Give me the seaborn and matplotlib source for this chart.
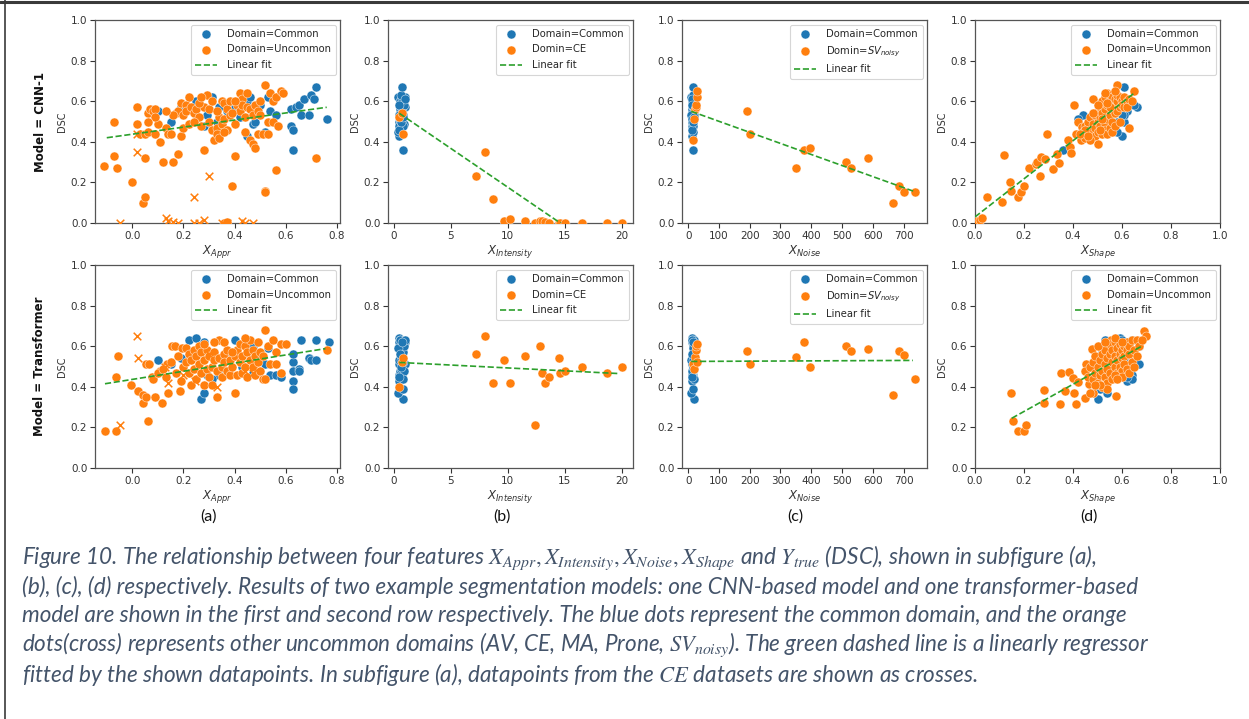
import numpy as np
import pandas as pd
import matplotlib
matplotlib.use("Agg")
import matplotlib.pyplot as plt
import seaborn as sns
from matplotlib.lines import Line2D

# ---------------- DATA ----------------
# CNN-1, common domain
cnn_common_dsc = [0.55,0.50,0.57,0.60,0.48,0.53,0.62,0.57,0.55,0.57,0.60,0.62,0.43,0.49,0.50,0.45,0.62,0.55,0.53,0.48,
                  0.56,0.46,0.36,0.57,0.58,0.53,0.61,0.53,0.63,0.61,0.67,0.51,0.50,0.52,0.58]
cnn_common_appr = [0.10,0.15,0.19,0.25,0.28,0.29,0.31,0.34,0.37,0.40,0.45,0.46,0.45,0.47,0.48,0.52,0.53,0.54,0.56,0.62,
                   0.62,0.63,0.63,0.64,0.65,0.66,0.67,0.69,0.70,0.71,0.72,0.76,0.33,0.42,0.50]
cnn_common_shape = [0.58,0.52,0.55,0.55,0.50,0.60,0.58,0.53,0.56,0.60,0.57,0.55,0.60,0.52,0.61,0.58,0.56,0.62,0.61,0.55,
                    0.60,0.49,0.36,0.66,0.65,0.60,0.61,0.44,0.56,0.59,0.61,0.42,0.58,0.55,0.54]
# Transformer, common domain
tr_common_dsc = [0.53,0.51,0.54,0.63,0.64,0.34,0.37,0.62,0.46,0.46,0.63,0.57,0.62,0.60,0.47,0.59,0.51,0.46,0.46,0.52,
                 0.48,0.43,0.39,0.49,0.48,0.63,0.54,0.53,0.53,0.63,0.62,0.56,0.50,0.44,0.45]
tr_common_appr = [0.10,0.15,0.19,0.22,0.25,0.27,0.28,0.28,0.29,0.34,0.40,0.38,0.46,0.47,0.47,0.53,0.52,0.54,0.56,0.63,
                  0.63,0.63,0.63,0.65,0.65,0.66,0.69,0.70,0.72,0.72,0.77,0.63,0.43,0.31,0.58]
tr_common_shape = [0.55,0.60,0.57,0.53,0.59,0.50,0.54,0.62,0.58,0.64,0.57,0.52,0.60,0.67,0.59,0.52,0.67,0.63,0.58,0.61,
                   0.56,0.62,0.51,0.60,0.55,0.64,0.61,0.53,0.57,0.60,0.58,0.52,0.55,0.64,0.62]
# shared common-domain features
common_intensity = [0.55,0.45,0.70,0.60,0.50,0.85,0.40,0.95,0.65,0.75,0.55,0.80,0.45,0.90,0.60,0.42,1.00,0.70,0.50,0.85,
                    0.58,0.48,0.82,0.62,0.90,0.52,0.75,0.44,0.68,0.95,0.72,0.56,0.64,0.80,0.47]
common_noise = [12,14,11,16,13,18,10,15,17,12,14,19,11,16,13,15,18,12,14,17,11,13,16,15,12,19,14,10,17,13,15,12,16,18,14]

# (a) CNN-1 uncommon (dots)
a_cnn_unc_x = [-0.11,-0.07,-0.07,-0.06,0.00,0.02,0.02,0.03,0.05,0.04,0.05,0.05,0.06,0.06,0.07,0.08,0.09,0.09,0.10,0.09,
               0.11,0.12,0.13,0.14,0.16,0.17,0.18,0.18,0.19,0.19,0.20,0.20,0.21,0.21,0.22,0.22,0.23,0.24,0.25,0.26,
               0.27,0.28,0.28,0.29,0.30,0.30,0.31,0.31,0.32,0.33,0.33,0.34,0.34,0.35,0.35,0.36,0.36,0.37,0.37,0.38,
               0.38,0.39,0.40,0.40,0.41,0.42,0.42,0.43,0.43,0.44,0.45,0.45,0.46,0.46,0.47,0.47,0.48,0.48,0.49,0.49,
               0.50,0.50,0.51,0.52,0.52,0.52,0.53,0.53,0.54,0.55,0.55,0.56,0.56,0.57,0.58,0.59,0.72,0.15,0.16,0.26,
               0.36,0.39,0.44,0.40,0.24,0.13,0.06,0.33,0.27,0.36,0.37]
a_cnn_unc_y = [0.28,0.50,0.33,0.27,0.20,0.57,0.49,0.44,0.44,0.10,0.13,0.32,0.45,0.54,0.56,0.55,0.56,0.44,0.49,0.52,
               0.40,0.30,0.47,0.44,0.30,0.54,0.55,0.34,0.43,0.59,0.47,0.53,0.58,0.55,0.62,0.49,0.57,0.54,0.56,0.52,
               0.48,0.36,0.57,0.63,0.50,0.56,0.60,0.46,0.41,0.47,0.44,0.42,0.52,0.60,0.49,0.59,0.51,0.56,0.46,0.60,
               0.53,0.18,0.33,0.49,0.58,0.64,0.55,0.61,0.58,0.52,0.64,0.57,0.56,0.41,0.39,0.53,0.37,0.58,0.55,0.44,
               0.60,0.53,0.44,0.68,0.16,0.155,0.44,0.50,0.64,0.50,0.60,0.62,0.26,0.48,0.65,0.64,0.32,0.44,0.53,0.59,
               0.45,0.54,0.45,0.60,0.50,0.55,0.50,0.55,0.62,0.00,0.005]
# (a) CNN-1 CE (crosses)
a_cnn_ce_x = [0.02,0.02,0.24,0.30,-0.05,0.13,0.14,0.16,0.18,0.24,0.26,0.28,0.35,0.37,0.43,0.44,0.47]
a_cnn_ce_y = [0.35,0.44,0.13,0.23,0.00,0.025,0.01,0.005,0.00,0.00,0.00,0.015,0.00,0.00,0.01,0.00,0.00]

# (a) Transformer uncommon (dots)
a_tr_unc_x = [-0.107,-0.065,-0.065,-0.055,-0.007,0.023,0.043,0.043,0.052,0.063,0.052,0.065,0.076,0.089,0.117,0.108,0.137,
              0.154,0.167,0.187,0.193,0.208,0.08,0.10,0.12,0.13,0.14,0.15,0.17,0.18,0.19,0.20,0.21,0.22,0.22,0.23,0.23,
              0.24,0.24,0.25,0.25,0.26,0.26,0.27,0.27,0.28,0.28,0.29,0.29,0.30,0.30,0.31,0.31,0.32,0.32,0.33,0.33,0.34,
              0.34,0.35,0.35,0.36,0.36,0.37,0.37,0.38,0.38,0.39,0.40,0.40,0.41,0.41,0.42,0.42,0.43,0.43,0.44,0.44,0.45,
              0.45,0.46,0.46,0.47,0.47,0.48,0.48,0.49,0.49,0.50,0.50,0.51,0.51,0.52,0.52,0.53,0.54,0.55,0.56,0.56,0.58,
              0.58,0.60,0.76,0.39,0.32,0.36,0.44,0.28]
a_tr_unc_y = [0.18,0.18,0.45,0.55,0.41,0.38,0.32,0.36,0.35,0.23,0.51,0.51,0.45,0.35,0.32,0.48,0.51,
              0.60,0.60,0.38,0.59,0.59,0.44,0.47,0.49,0.45,0.37,0.52,0.47,0.55,0.43,0.50,0.52,0.56,0.47,0.41,0.53,
              0.58,0.49,0.44,0.55,0.60,0.51,0.47,0.57,0.41,0.53,0.58,0.49,0.45,0.55,0.50,0.41,0.57,0.53,0.35,0.48,0.54,
              0.63,0.50,0.45,0.56,0.52,0.48,0.58,0.53,0.46,0.50,0.37,0.55,0.58,0.46,0.52,0.61,0.55,0.47,0.60,0.50,0.57,
              0.45,0.53,0.63,0.58,0.50,0.55,0.46,0.62,0.52,0.57,0.48,0.55,0.44,0.68,0.44,0.60,0.51,0.63,0.51,0.57,0.47,
              0.61,0.61,0.58,0.57,0.62,0.62,0.64,0.61]
a_tr_ce_x = [0.02,0.023,-0.048,0.138,0.33,0.128,0.30,0.245,0.47,0.44,0.20]
a_tr_ce_y = [0.65,0.54,0.21,0.42,0.40,0.50,0.56,0.43,0.47,0.48,0.46]

# (b) CE domain intensity
intensity_ce_x = [0.5,0.7,0.8,7.2,8.0,8.7,9.7,10.2,11.5,12.4,12.8,13.0,13.3,13.6,14.5,14.6,15.0,16.5,18.7,20.0]
intensity_ce_cnn_y = [0.52,0.54,0.44,0.23,0.35,0.12,0.01,0.02,0.01,0.0,0.01,0.01,0.005,0.0,0.0,0.0,0.0,0.0,0.0,0.0]
intensity_ce_tr_y = [0.40,0.52,0.54,0.56,0.65,0.42,0.53,0.42,0.55,0.21,0.60,0.47,0.42,0.45,0.54,0.47,0.48,0.50,0.47,0.50]

# (c) SV_noisy domain noise
noise_sv_x = [15,20,22,25,27,28,30,190,200,350,377,395,514,528,585,667,684,700,737]
noise_sv_cnn_y = [0.41,0.51,0.56,0.57,0.58,0.62,0.65,0.55,0.44,0.27,0.36,0.37,0.30,0.27,0.32,0.10,0.18,0.155,0.155]
noise_sv_tr_y = [0.51,0.49,0.545,0.58,0.60,0.61,0.52,0.575,0.51,0.545,0.62,0.50,0.60,0.575,0.585,0.36,0.575,0.555,0.44]

# (d) uncommon shape
d_cnn_unc_x = [0.01,0.02,0.027,0.05,0.109,0.118,0.142,0.145,0.176,0.187,0.20,0.22,0.248,0.254,0.265,0.27,0.284,0.292,
               0.319,0.334,0.343,0.38,0.387,0.392,0.403,0.414,0.42,0.434,0.438,
               0.44,0.45,0.45,0.46,0.46,0.47,0.47,0.48,0.48,0.48,0.49,0.49,0.49,0.50,0.50,0.50,0.50,0.51,0.51,0.51,
               0.52,0.52,0.52,0.53,0.53,0.53,0.53,0.54,0.54,0.54,0.54,0.55,0.55,0.55,0.55,0.56,0.56,0.56,0.56,0.57,
               0.57,0.57,0.57,0.58,0.58,0.58,0.58,0.59,0.59,0.59,0.60,0.60,0.61,0.61,0.62,0.62,0.63,0.63,0.65,0.64,
               0.47,0.51,0.45,0.43,0.46,0.52,0.50,0.48,0.55,0.53,0.57,0.54]
d_cnn_unc_y = [0.01,0.016,0.025,0.128,0.104,0.334,0.20,0.16,0.128,0.153,0.184,0.27,0.29,0.30,0.23,0.326,0.317,0.436,
               0.268,0.342,0.296,0.41,0.375,0.345,0.579,0.436,0.50,0.408,0.472,
               0.45,0.48,0.42,0.47,0.50,0.44,0.52,0.46,0.61,0.49,0.43,0.53,0.47,0.50,0.39,0.55,0.45,0.57,0.48,0.52,
               0.44,0.54,0.60,0.49,0.62,0.46,0.56,0.51,0.58,0.44,0.64,0.53,0.60,0.47,0.63,0.56,0.50,0.62,0.45,0.58,
               0.54,0.61,0.48,0.68,0.60,0.55,0.63,0.57,0.50,0.62,0.60,0.58,0.62,0.57,0.60,0.57,0.47,0.61,0.65,0.60,
               0.41,0.46,0.46,0.44,0.43,0.51,0.58,0.54,0.57,0.64,0.65,0.59]
d_tr_unc_x = [0.147,0.156,0.176,0.20,0.21,0.282,0.282,0.346,0.353,0.366,0.384,0.398,0.403,0.414,0.422,0.448,0.455,0.479,
              0.465,0.482,0.574,0.556,0.689,0.696,
              0.45,0.46,0.47,0.48,0.48,0.49,0.49,0.50,0.50,0.51,0.51,0.52,0.52,0.52,0.53,0.53,0.53,0.54,0.54,0.54,
              0.55,0.55,0.55,0.56,0.56,0.56,0.57,0.57,0.57,0.58,0.58,0.58,0.59,0.59,0.59,0.60,0.60,0.60,0.61,0.61,
              0.61,0.62,0.62,0.62,0.63,0.63,0.64,0.64,0.65,0.66,0.66,0.67,0.68,0.54,0.51,0.57,0.60,0.63,0.65,0.47,
              0.50,0.53,0.57,0.60,0.58,0.49]
d_tr_unc_y = [0.37,0.23,0.18,0.18,0.21,0.386,0.32,0.313,0.468,0.379,0.473,0.445,0.369,0.316,0.423,0.344,0.514,0.588,
              0.412,0.369,0.353,0.633,0.674,0.649,
              0.48,0.45,0.50,0.44,0.52,0.47,0.55,0.42,0.50,0.53,0.46,0.56,0.48,0.40,0.51,0.45,0.58,0.49,0.54,0.42,
              0.56,0.47,0.61,0.52,0.44,0.58,0.50,0.55,0.62,0.47,0.53,0.59,0.56,0.50,0.61,0.54,0.58,0.48,0.60,0.55,
              0.51,0.58,0.62,0.49,0.56,0.60,0.63,0.52,0.58,0.55,0.63,0.60,0.63,0.39,0.41,0.46,0.45,0.47,0.50,0.37,
              0.60,0.62,0.64,0.62,0.44,0.41]

# Linear fit endpoints: ([x0, x1], [y0, y1])
fit_lines = {
    ("cnn", "a"): ([-0.10, 0.76], [0.42, 0.57]),
    ("cnn", "b"): ([0.5, 20.0], [0.54, -0.207]),
    ("cnn", "c"): ([10, 735], [0.55, 0.155]),
    ("cnn", "d"): ([0.0, 0.65], [0.03, 0.64]),
    ("tr", "a"): ([-0.107, 0.755], [0.415, 0.588]),
    ("tr", "b"): ([0.5, 19.8], [0.52, 0.465]),
    ("tr", "c"): ([10, 730], [0.525, 0.53]),
    ("tr", "d"): ([0.15, 0.68], [0.245, 0.60]),
}

row_labels = ["Model = CNN-1", "Model = Transformer"]
x_labels = ["$X_{Appr}$", "$X_{Intensity}$", "$X_{Noise}$", "$X_{Shape}$"]
unc_labels = ["Domain=Uncommon", "Domin=CE", "Domin=$SV_{noisy}$", "Domain=Uncommon"]
sub_labels = ["(a)", "(b)", "(c)", "(d)"]
x_limits = [(-0.146, 0.812), (-0.5, 20.97), (-20, 776), (0.0, 1.0)]
x_ticks = [[0.0, 0.2, 0.4, 0.6, 0.8], [0, 5, 10, 15, 20], [0, 100, 200, 300, 400, 500, 600, 700],
           [0.0, 0.2, 0.4, 0.6, 0.8, 1.0]]
caption_lines = [
    "Figure 10. The relationship between four features $X_{Appr},X_{Intensity},X_{Noise},X_{Shape}$ and $Y_{true}$ (DSC), shown in subfigure (a),",
    "(b), (c), (d) respectively. Results of two example segmentation models: one CNN-based model and one transformer-based",
    "model are shown in the first and second row respectively. The blue dots represent the common domain, and the orange",
    "dots(cross) represents other uncommon domains (AV, CE, MA, Prone, $SV_{noisy}$). The green dashed line is a linearly regressor",
    "fitted by the shown datapoints. In subfigure (a), datapoints from the $CE$ datasets are shown as crosses.",
]

# --------------- PLOT -----------------
sns.set_theme(style="ticks")
plt.rcParams['font.family'] = ['DejaVu Sans']

BLUE, ORANGE, GREEN = "#1f77b4", "#ff7f0e", "#2ca02c"
W, H = 1249, 719
fig = plt.figure(figsize=(W / 100, H / 100), dpi=100)
fig.patch.set_facecolor("white")

lefts = [95, 388, 682, 975]
tops = [20, 265]
aw, ah = 245, 203

panels = {
    "cnn": {
        "common_y": cnn_common_dsc,
        "common_x": [cnn_common_appr, common_intensity, common_noise, cnn_common_shape],
        "unc": [(a_cnn_unc_x, a_cnn_unc_y), (intensity_ce_x, intensity_ce_cnn_y),
                (noise_sv_x, noise_sv_cnn_y), (d_cnn_unc_x, d_cnn_unc_y)],
        "ce": (a_cnn_ce_x, a_cnn_ce_y),
    },
    "tr": {
        "common_y": tr_common_dsc,
        "common_x": [tr_common_appr, common_intensity, common_noise, tr_common_shape],
        "unc": [(a_tr_unc_x, a_tr_unc_y), (intensity_ce_x, intensity_ce_tr_y),
                (noise_sv_x, noise_sv_tr_y), (d_tr_unc_x, d_tr_unc_y)],
        "ce": (a_tr_ce_x, a_tr_ce_y),
    },
}

for r, model in enumerate(["cnn", "tr"]):
    P = panels[model]
    for c in range(4):
        ax = fig.add_axes([lefts[c] / W, 1 - (tops[r] + ah) / H, aw / W, ah / H])
        ux, uy = P["unc"][c]
        cdf = pd.DataFrame({"x": P["common_x"][c], "y": P["common_y"]})
        udf = pd.DataFrame({"x": ux, "y": uy})
        sns.scatterplot(data=cdf, x="x", y="y", color=BLUE, s=42, edgecolor="white", linewidth=0.3,
                        label="Domain=Common", ax=ax, zorder=3)
        sns.scatterplot(data=udf, x="x", y="y", color=ORANGE, s=42, edgecolor="white", linewidth=0.3,
                        label=unc_labels[c], ax=ax, zorder=3)
        if c == 0:
            ex, ey = P["ce"]
            sns.scatterplot(x=ex, y=ey, color=ORANGE, marker="x", s=30, linewidth=1.1, ax=ax,
                            legend=False, zorder=3)
        fx, fy = fit_lines[(model, "abcd"[c])]
        ax.plot(fx, fy, linestyle="--", color=GREEN, lw=1.2, label="Linear fit", zorder=4)
        ax.set_xlim(*x_limits[c])
        ax.set_ylim(0, 1)
        ax.set_xticks(x_ticks[c])
        ax.set_yticks([0.0, 0.2, 0.4, 0.6, 0.8, 1.0])
        if c in (0, 3):
            ax.set_xticklabels([f"{t:.1f}" for t in x_ticks[c]])
        ax.set_yticklabels([f"{t:.1f}" for t in [0.0, 0.2, 0.4, 0.6, 0.8, 1.0]])
        ax.tick_params(labelsize=7.5, length=3.5, width=0.8, colors="#333333", pad=2)
        for s in ax.spines.values():
            s.set_color("#555555")
            s.set_linewidth(0.9)
        ax.set_xlabel(x_labels[c], fontsize=8.5, color="#333333", labelpad=2)
        ax.set_ylabel("DSC", fontsize=7, color="#333333", labelpad=3)
        leg = ax.legend(loc="upper right", fontsize=7.2, frameon=True, fancybox=True,
                        borderaxespad=0.45, handletextpad=1.0, labelspacing=0.55, borderpad=0.45,
                        handlelength=2.2)
        leg.get_frame().set_edgecolor("#cccccc")
        leg.get_frame().set_linewidth(0.8)
        if c == 0:
            fig.text(40 / W, 1 - (tops[r] + ah / 2) / H, row_labels[r], rotation=90, fontsize=8.5,
                     fontweight="bold", ha="center", va="center", color="#111111")
        if r == 1:
            fig.text((lefts[c] + aw / 2 - 9) / W, 1 - 517 / H, sub_labels[c], fontsize=11.5,
                     family=["Lato", "DejaVu Sans"], ha="center", va="center", color="#111111")

# frame decoration lines (document box)
fig.add_artist(Line2D([0, 1], [1 - 1.5 / H, 1 - 1.5 / H], transform=fig.transFigure, color="#3a3a3a", lw=2.2))
fig.add_artist(Line2D([5 / W, 5 / W], [0, 1], transform=fig.transFigure, color="#3a3a3a", lw=1.2))

# caption
cap_color = "#44546A"
line_y = [558, 587, 616, 645, 674]
texts = []
for yy, line in zip(line_y, caption_lines):
    t = fig.text(22 / W, 1 - yy / H, line, fontsize=15, style="italic",
                 family=["Lato", "DejaVu Sans"], color=cap_color, ha="left", va="center")
    t.set_math_fontfamily("stix")
    texts.append(t)
fig.canvas.draw()
rend = fig.canvas.get_renderer()
bw = texts[0].get_window_extent(rend).width
scale = (1100 - 22) / bw
for t in texts:
    t.set_fontsize(15 * scale)

fig.savefig("out.png", dpi=100, facecolor="white")
